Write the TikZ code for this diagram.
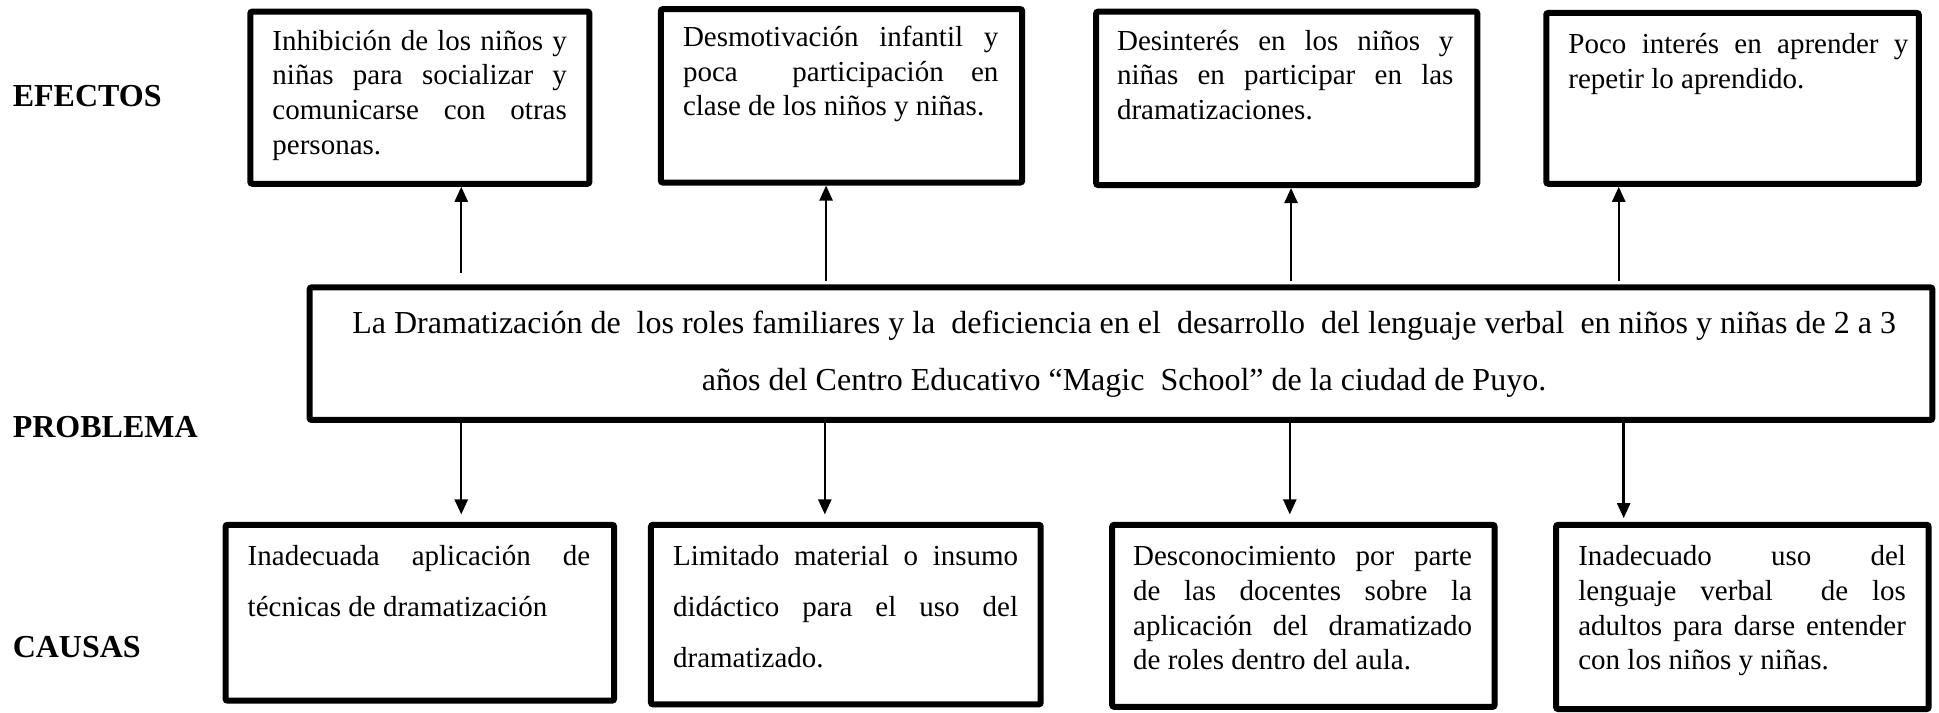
\documentclass[tikz,border=0pt]{standalone}
\usepackage{fontspec}
\setmainfont{Liberation Serif}
\usetikzlibrary{arrows.meta,fit}
\hyphenpenalty=10000
\exhyphenpenalty=10000
\tolerance=10000
\hbadness=10000
\newcommand\fst{\rule{0pt}{11pt}}
\begin{document}
\begin{tikzpicture}[x=0.6183pt,y=-0.6183pt,
  box/.style={draw,line width=3pt,rounded corners=1pt,inner sep=0pt},
  txt/.style={inner sep=0pt,anchor=north west,align=justify},
  tsmall/.style={txt,font=\fontsize{14.5pt}{17.3pt}\selectfont},
  twide/.style={txt,font=\fontsize{14.5pt}{25.3pt}\selectfont},
  lab/.style={font=\fontsize{16pt}{19pt}\selectfont\bfseries,anchor=west,inner sep=0pt},
  arr/.style={line width=1.2pt,-{Triangle[width=6.5pt,length=7.5pt]}}]
\useasboundingbox (0,0) rectangle (1568,575.8);
% labels
\node[lab] (lef) at (10,78) {EFECTOS};
\node[lab] (lpr) at (10,345) {PROBLEMA};
\node[lab] (lca) at (10,523) {CAUSAS};
% effect boxes
\node[box,fit={(202.4,9.4)(476.6,148.6)}] (e1) {};
\node[box,fit={(534.4,7.4)(826.6,147.6)}] (e2) {};
\node[box,fit={(886.4,9.4)(1194.6,149.6)}] (e3) {};
\node[box,fit={(1250.4,10.4)(1551.6,148.6)}] (e4) {};
\node[tsmall,text width=147.2pt] (e1t) at (220,22.5) {\fst Inhibición de los niños y\linebreak niñas para socializar y\linebreak comunicarse con otras\linebreak personas.};
\node[tsmall,text width=157.7pt] (e2t) at (552,19.5) {\fst Desmotivación infantil y\linebreak poca \ participación en\linebreak clase de los niños y niñas.};
\node[tsmall,text width=168.2pt] (e3t) at (903,22.5) {\fst Desinterés en los niños y\linebreak niñas en participar en las\linebreak dramatizaciones.};
\node[tsmall,text width=170pt] (e4t) at (1268,25.5) {\fst Poco interés en aprender y\linebreak repetir lo aprendido.};
% problem
\node[box,fit={(250.4,232.4)(1562.6,339.6)}] (p) {};
\node[inner sep=0pt,anchor=north,align=center,font=\fontsize{16pt}{28.4pt}\selectfont] (pt) at (909,250.8) {\rule{0pt}{11.7pt}La Dramatización de\ \ los roles familiares y la\ \ deficiencia en el\ \ desarrollo\ \ del lenguaje verbal\ \ en niños y niñas de 2 a 3\\años del Centro Educativo “Magic\ \ School” de la ciudad de Puyo.};
% cause boxes
\node[box,fit={(182.4,424.4)(496.6,566.6)}] (c1) {};
\node[box,fit={(526.4,424.4)(841.6,569.6)}] (c2) {};
\node[box,fit={(899.4,424.4)(1208.6,571.6)}] (c3) {};
\node[box,fit={(1258.4,424.4)(1559.6,573.4)}] (c4) {};
\node[twide,text width=171.3pt] (c1t) at (200,439.5) {\fst Inadecuada aplicación de\linebreak técnicas de dramatización};
\node[twide,text width=172.5pt] (c2t) at (544,439.5) {\fst Limitado material o insumo\linebreak didáctico para el uso del\linebreak dramatizado.};
\node[tsmall,text width=169.4pt] (c3t) at (916,439.5) {\fst Desconocimiento por parte\linebreak de las docentes sobre la\linebreak aplicación del dramatizado\linebreak de roles dentro del aula.};
\node[tsmall,text width=163.8pt] (c4t) at (1276,439.5) {\fst Inadecuado uso del\linebreak lenguaje verbal\ \ de los\linebreak adultos para darse entender\linebreak con los niños y niñas.};
% up arrows
\coordinate (u1) at (373,221);
\coordinate (u2) at (668,227);
\coordinate (u3) at (1044,227);
\coordinate (u4) at (1309,227);
\draw[arr] (u1) -- (u1 |- e1.south);
\draw[arr] (u2) -- (u2 |- e2.south);
\draw[arr] (u3) -- (u3 |- e3.south);
\draw[arr] (u4) -- (u4 |- e4.south);
% down arrows
\coordinate (d1) at (373,416);
\coordinate (d2) at (667,416);
\coordinate (d3) at (1043,416);
\coordinate (d4) at (1313,419);
\draw[arr] (d1 |- p.south) -- (d1);
\draw[arr] (d2 |- p.south) -- (d2);
\draw[arr] (d3 |- p.south) -- (d3);
\draw[arr] (d4 |- p.south) -- (d4);
\end{tikzpicture}
\end{document}
